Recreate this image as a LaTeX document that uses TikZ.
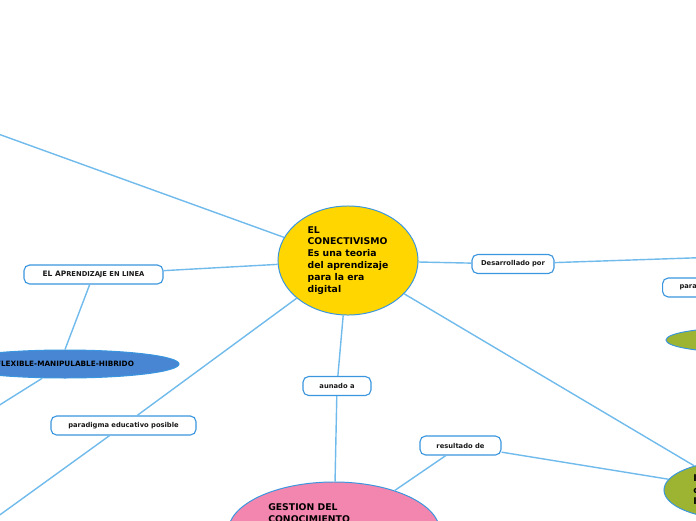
\documentclass[tikz,border=0pt]{standalone}
\usepackage{fontspec}
\setmainfont{DejaVu Sans}
\usetikzlibrary{shapes.geometric,positioning}
\definecolor{mmline}{RGB}{112,187,236}
\definecolor{mmborder}{RGB}{58,150,222}
\definecolor{mmgold}{RGB}{255,214,0}
\definecolor{mmpink}{RGB}{242,134,174}
\definecolor{mmblue}{RGB}{72,134,212}
\definecolor{mmolive}{RGB}{156,180,50}
\tikzset{
  link/.style={draw=mmline, line width=1pt},
  labelbox/.style={draw=mmborder, fill=white, rounded corners=4pt, line width=0.8pt, minimum height=0.475cm, inner sep=1pt, font=\fontsize{4.8}{5.6}\selectfont\bfseries, text=black!90},
  topic/.style={ellipse, draw=mmborder, line width=0.7pt, inner sep=0pt, font=\fontsize{6.6}{8.5}\selectfont\bfseries, text=black}
}

\begin{document}
\begin{tikzpicture}[x=0.025cm, y=-0.025cm]
  \useasboundingbox (0,0) rectangle (696,520);
  \clip (0,0) rectangle (696,520);

  % main topic
  \node[topic, fill=mmgold, minimum width=3.5cm, minimum height=2.725cm, align=left] (central) at (348,260.5) {EL\\CONECTIVISMO\\Es una teoria\\del aprendizaje\\para la era\\digital};

  % left branch
  \node[labelbox, minimum width=3.475cm] (online) at (93.5,274.5) {{\fontsize{5.3}{6}\selectfont EL AP}RENDIZAJE EN LINEA};
  \node[topic, fill=mmblue, minimum width=5.7cm, minimum height=0.7cm, font=\fontsize{5.2}{6}\selectfont\bfseries] (flex) at (65,364) {FLEXIBLE-MANIPULABLE-HIBRIDO};
  \node[labelbox, minimum width=3.625cm] (paradigm) at (123.5,425.5) {paradigma educativo posible};
  \coordinate (offtop) at (-10,131);
  \coordinate (offflex) at (-10,411);
  \coordinate (offparadigm) at (-10,522);

  % lower branch
  \node[labelbox, minimum width=1.7cm] (joined) at (337,386) {aunado a};
  \node[topic, fill=mmpink, minimum width=5.3cm, minimum height=2.5cm] (knowledge) at (334,532) {};
  \node[font=\fontsize{6.6}{8.5}\selectfont\bfseries, align=left, anchor=north west, inner sep=0pt] (knowledgetext) at (268,503) {GESTION DEL\\CONOCIMIENTO};
  \node[labelbox, minimum width=2.025cm] (result) at (460.5,445.5) {resultado de};

  % right branch
  \node[labelbox, minimum width=2.05cm] (developed) at (513,264) {Desarrollado por};
  \coordinate (offright) at (720,257);
  \node[labelbox, anchor=west, inner xsep=0.425cm] (para) at (662,287.5) {para};
  \node[topic, fill=mmolive, minimum width=3.45cm, minimum height=0.6cm] (greenmid) at (735,340) {};
  \node[topic, fill=mmolive, minimum width=3.55cm, minimum height=1.45cm] (greenlow) at (735,490) {};
  \node[font=\fontsize{6.6}{8.5}\selectfont\bfseries, align=left, anchor=north west, inner sep=0pt] (greenlowtext) at (693,474) {I\\c\\I};

  % connectors
  \draw[link] (central) -- (offtop);
  \draw[link] (central) -- (online);
  \draw[link] (online) -- (flex.north);
  \draw[link] (flex) -- (offflex);
  \draw[link] (central) -- (paradigm);
  \draw[link] (paradigm) -- (offparadigm);
  \draw[link] (central) -- (joined);
  \draw[link] (joined) -- (knowledge);
  \draw[link] (knowledge) -- (result);
  \draw[link] (result) -- (greenlow);
  \draw[link] (central) -- (greenlow);
  \draw[link] (central) -- (developed);
  \draw[link] (developed) -- (offright);
\end{tikzpicture}
\end{document}
